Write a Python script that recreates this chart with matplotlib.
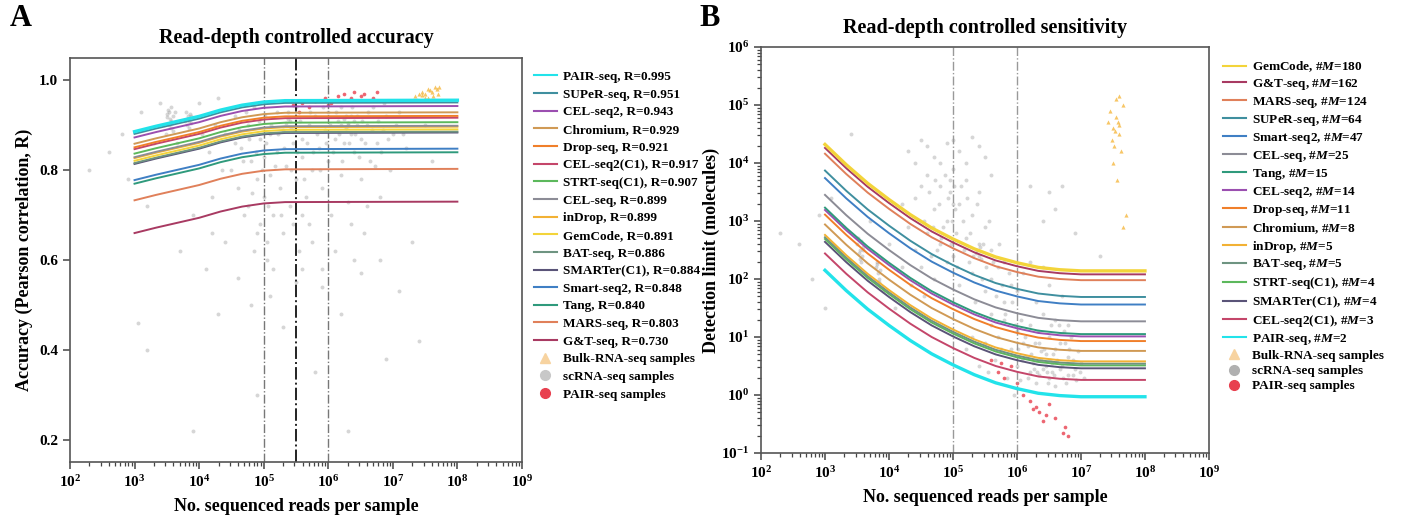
import numpy as np
import matplotlib
matplotlib.use("Agg")
import matplotlib.pyplot as plt
from matplotlib.lines import Line2D
from matplotlib.ticker import LogLocator, FuncFormatter, NullFormatter

plt.rcParams['font.family'] = ['Liberation Serif', 'DejaVu Serif']
plt.rcParams['font.weight'] = 'bold'
plt.rcParams['mathtext.fontset'] = 'custom'
plt.rcParams['mathtext.rm'] = 'Liberation Serif:bold'
plt.rcParams['mathtext.bf'] = 'Liberation Serif:bold'
plt.rcParams['mathtext.it'] = 'Liberation Serif:italic:bold'

# --- datos panel A: precisión controlada por profundidad de lectura ---
acc_methods = ['PAIR-seq', 'SUPeR-seq', 'CEL-seq2', 'Chromium', 'Drop-seq', 'CEL-seq2(C1)',
               'STRT-seq(C1)', 'CEL-seq', 'inDrop', 'GemCode', 'BAT-seq', 'SMARTer(C1)',
               'Smart-seq2', 'Tang', 'MARS-seq', 'G&T-seq']
acc_r = [0.995, 0.951, 0.943, 0.929, 0.921, 0.917, 0.907, 0.899, 0.899, 0.891,
         0.886, 0.884, 0.848, 0.840, 0.803, 0.730]
acc_x = [1e3, 2.15e3, 4.64e3, 1e4, 2.15e4, 4.64e4, 1e5, 2.15e5, 1e8]
acc_curves = [
    [0.886, 0.898, 0.909, 0.920, 0.934, 0.945, 0.952, 0.955, 0.956],
    [0.881, 0.893, 0.904, 0.915, 0.929, 0.940, 0.947, 0.950, 0.951],
    [0.873, 0.885, 0.896, 0.907, 0.921, 0.932, 0.939, 0.942, 0.943],
    [0.859, 0.871, 0.882, 0.893, 0.907, 0.918, 0.925, 0.928, 0.929],
    [0.851, 0.863, 0.874, 0.885, 0.899, 0.910, 0.917, 0.920, 0.921],
    [0.847, 0.859, 0.870, 0.881, 0.895, 0.906, 0.913, 0.916, 0.917],
    [0.837, 0.849, 0.860, 0.871, 0.885, 0.896, 0.903, 0.906, 0.907],
    [0.829, 0.841, 0.852, 0.863, 0.877, 0.888, 0.895, 0.898, 0.899],
    [0.827, 0.839, 0.850, 0.861, 0.875, 0.886, 0.893, 0.896, 0.897],
    [0.821, 0.833, 0.844, 0.855, 0.869, 0.880, 0.887, 0.890, 0.891],
    [0.816, 0.828, 0.839, 0.850, 0.864, 0.875, 0.882, 0.885, 0.886],
    [0.814, 0.826, 0.837, 0.848, 0.862, 0.873, 0.880, 0.883, 0.884],
    [0.778, 0.790, 0.801, 0.812, 0.826, 0.837, 0.844, 0.847, 0.848],
    [0.770, 0.782, 0.793, 0.804, 0.818, 0.829, 0.836, 0.839, 0.840],
    [0.733, 0.745, 0.756, 0.767, 0.781, 0.792, 0.799, 0.802, 0.803],
    [0.660, 0.672, 0.683, 0.694, 0.708, 0.719, 0.726, 0.729, 0.730],
]

# muestras scRNA-seq (log10 lecturas, R)
acc_sc = [
    (3.50, 0.925), (3.55, 0.915), (3.58, 0.905), (3.52, 0.935), (3.56, 0.895), (3.60, 0.92),
    (3.54, 0.93), (3.57, 0.91), (3.53, 0.90), (3.59, 0.888), (3.51, 0.918), (3.56, 0.94),
    (3.80, 0.93), (3.83, 0.92), (3.85, 0.91), (3.82, 0.90), (3.86, 0.925), (3.84, 0.895),
    (3.81, 0.915), (3.87, 0.905),
    (2.3, 0.80), (2.6, 0.84), (2.9, 0.78), (3.1, 0.93), (3.2, 0.72), (3.3, 0.86), (3.4, 0.95),
    (2.8, 0.88), (3.7, 0.62), (3.9, 0.70), (4.0, 0.95), (4.1, 0.58), (4.2, 0.66), (3.2, 0.40),
    (4.3, 0.48), (3.05, 0.46),
    (4.4, 0.88), (4.5, 0.80), (4.55, 0.92), (4.6, 0.76), (4.65, 0.85), (4.7, 0.70), (4.75, 0.90),
    (4.8, 0.82), (4.85, 0.94), (4.9, 0.78), (4.9, 0.66), (4.95, 0.87), (5.0, 0.74), (5.0, 0.83),
    (5.02, 0.92), (5.05, 0.60), (5.1, 0.79), (5.1, 0.88), (5.15, 0.70), (5.2, 0.84), (5.2, 0.93),
    (5.25, 0.76), (5.3, 0.89), (5.3, 0.66), (5.35, 0.81), (5.4, 0.91), (5.4, 0.72), (5.45, 0.86),
    (5.5, 0.78), (5.5, 0.94), (5.55, 0.62), (5.6, 0.87), (5.6, 0.83), (5.65, 0.74), (5.7, 0.90),
    (5.7, 0.68), (5.75, 0.80), (5.8, 0.92), (5.85, 0.85), (5.9, 0.76), (5.95, 0.89), (6.0, 0.82),
    (6.0, 0.93), (6.05, 0.70), (6.1, 0.87), (6.15, 0.91), (6.2, 0.79), (6.2, 0.94), (6.25, 0.86),
    (6.3, 0.90), (6.3, 0.73), (6.35, 0.88), (6.4, 0.84), (6.45, 0.92), (6.5, 0.78), (6.5, 0.87),
    (6.55, 0.66), (6.6, 0.90), (6.65, 0.82), (6.7, 0.94), (6.75, 0.86), (6.8, 0.74), (6.85, 0.89),
    (6.9, 0.92), (6.95, 0.80), (7.0, 0.88), (7.1, 0.93), (7.2, 0.85),
    (5.35, 0.905), (5.42, 0.895), (5.38, 0.915), (6.25, 0.915), (6.3, 0.905), (6.35, 0.92),
    (6.2, 0.90), (6.4, 0.91), (6.28, 0.895), (6.45, 0.90),
    (4.6, 0.56), (4.8, 0.50), (5.1, 0.52), (5.3, 0.45), (5.6, 0.58), (5.9, 0.54), (6.2, 0.48),
    (6.5, 0.57), (6.8, 0.60), (7.1, 0.53), (7.4, 0.42), (6.9, 0.38), (5.8, 0.35), (4.9, 0.30),
    (3.9, 0.22), (6.3, 0.22), (7.3, 0.64), (4.4, 0.64), (4.2, 0.74), (4.3, 0.96), (7.5, 0.90),
    (7.6, 0.82),
    (4.55, 0.86), (4.62, 0.89), (4.68, 0.82), (4.72, 0.93), (4.78, 0.87), (4.82, 0.75),
    (4.88, 0.84), (4.92, 0.91), (4.97, 0.80), (5.03, 0.86), (5.07, 0.72), (5.12, 0.90),
    (5.17, 0.81), (5.22, 0.88), (5.27, 0.70), (5.32, 0.85), (5.37, 0.93), (5.43, 0.80),
    (5.47, 0.89), (5.52, 0.84), (5.57, 0.91), (5.62, 0.78), (5.67, 0.86), (5.72, 0.93),
    (5.77, 0.84), (5.82, 0.88), (5.87, 0.80), (5.92, 0.94), (5.97, 0.86), (6.02, 0.90),
    (6.07, 0.84), (6.12, 0.93), (6.17, 0.88), (6.22, 0.82), (6.27, 0.92), (6.32, 0.86),
    (6.37, 0.94), (6.42, 0.88), (6.47, 0.83), (6.52, 0.91), (6.57, 0.86), (6.62, 0.93),
    (6.67, 0.89), (6.72, 0.81), (6.77, 0.91), (6.82, 0.84), (6.87, 0.95), (6.92, 0.87),
    (7.05, 0.90), (7.15, 0.88),
    (4.85, 0.62), (4.95, 0.68), (5.05, 0.64), (5.15, 0.58), (4.75, 0.72), (5.45, 0.68),
    (5.6, 0.70), (5.75, 0.64), (6.1, 0.62), (6.35, 0.68), (6.6, 0.72), (6.4, 0.60), (5.9, 0.58),
    (5.5, 0.55),
    (3.45, 0.90), (3.62, 0.93), (3.48, 0.88), (3.78, 0.91), (3.88, 0.92), (3.65, 0.86),
    (4.05, 0.88), (4.15, 0.84), (4.25, 0.90), (4.35, 0.80),
]
acc_bulk = [
    (7.35, 0.965), (7.45, 0.975), (7.5, 0.97), (7.55, 0.98), (7.6, 0.975), (7.65, 0.985),
    (7.7, 0.97), (7.55, 0.96), (7.4, 0.97), (7.62, 0.965), (7.58, 0.978), (7.68, 0.98),
    (7.72, 0.985), (7.5, 0.962), (7.45, 0.968),
]
acc_pair = [
    (5.45, 0.945), (5.6, 0.95), (5.7, 0.94), (5.8, 0.955), (5.95, 0.96), (6.05, 0.95),
    (6.15, 0.965), (6.25, 0.97), (6.35, 0.96), (6.4, 0.975), (6.5, 0.965), (6.55, 0.97),
    (6.7, 0.96), (6.75, 0.975), (5.55, 0.93), (6.0, 0.945),
]

# --- datos panel B: sensibilidad (log10 del límite de detección) ---
sens_methods = ['GemCode', 'G&T-seq', 'MARS-seq', 'SUPeR-seq', 'Smart-seq2', 'CEL-seq', 'Tang',
                'CEL-seq2', 'Drop-seq', 'Chromium', 'inDrop', 'BAT-seq', 'STRT-seq(C1)',
                'SMARTer(C1)', 'CEL-seq2(C1)', 'PAIR-seq']
sens_m = [180, 162, 124, 64, 47, 25, 15, 14, 11, 8, 5, 5, 4, 4, 3, 2]
sens_x = [1e3, 2.15e3, 4.64e3, 1e4, 2.15e4, 4.64e4, 1e5, 2.15e5, 4.64e5, 1e6, 2.15e6, 4.64e6,
          1e7, 1e8]
sens_curves_log = [
    [4.32, 3.97, 3.65, 3.37, 3.11, 2.88, 2.69, 2.52, 2.38, 2.28, 2.20, 2.16, 2.14, 2.14],
    [4.26, 3.91, 3.59, 3.31, 3.05, 2.82, 2.63, 2.46, 2.32, 2.22, 2.14, 2.10, 2.08, 2.08],
    [4.16, 3.81, 3.49, 3.21, 2.95, 2.72, 2.53, 2.36, 2.22, 2.12, 2.04, 2.00, 1.98, 1.98],
    [3.87, 3.52, 3.20, 2.92, 2.66, 2.43, 2.24, 2.07, 1.93, 1.83, 1.75, 1.71, 1.69, 1.69],
    [3.74, 3.39, 3.07, 2.79, 2.53, 2.30, 2.11, 1.94, 1.80, 1.70, 1.62, 1.58, 1.56, 1.56],
    [3.45, 3.10, 2.78, 2.50, 2.24, 2.01, 1.82, 1.65, 1.51, 1.41, 1.33, 1.29, 1.27, 1.27],
    [3.23, 2.88, 2.56, 2.28, 2.02, 1.79, 1.60, 1.43, 1.29, 1.19, 1.11, 1.07, 1.05, 1.05],
    [3.19, 2.84, 2.52, 2.24, 1.98, 1.75, 1.56, 1.39, 1.25, 1.15, 1.07, 1.03, 1.01, 1.01],
    [3.11, 2.76, 2.44, 2.16, 1.90, 1.67, 1.48, 1.31, 1.17, 1.07, 0.99, 0.95, 0.93, 0.93],
    [2.94, 2.59, 2.27, 1.99, 1.73, 1.50, 1.31, 1.14, 1.00, 0.90, 0.82, 0.78, 0.76, 0.76],
    [2.76, 2.41, 2.09, 1.81, 1.55, 1.32, 1.13, 0.96, 0.82, 0.72, 0.64, 0.60, 0.58, 0.58],
    [2.72, 2.37, 2.05, 1.77, 1.51, 1.28, 1.09, 0.92, 0.78, 0.68, 0.60, 0.56, 0.54, 0.54],
    [2.69, 2.34, 2.02, 1.74, 1.48, 1.25, 1.06, 0.89, 0.75, 0.65, 0.57, 0.53, 0.51, 0.51],
    [2.64, 2.29, 1.97, 1.69, 1.43, 1.20, 1.01, 0.84, 0.70, 0.60, 0.52, 0.48, 0.46, 0.46],
    [2.44, 2.09, 1.77, 1.49, 1.23, 1.00, 0.81, 0.64, 0.50, 0.40, 0.32, 0.28, 0.26, 0.26],
    [2.15, 1.80, 1.48, 1.20, 0.94, 0.71, 0.52, 0.35, 0.21, 0.11, 0.03, -0.01, -0.03, -0.03],
]

# muestras scRNA-seq (log10 lecturas, log10 límite)
sens_sc = [
    (3.50, 2.6), (3.55, 2.5), (3.58, 2.4), (3.52, 2.7), (3.56, 2.3), (3.60, 2.55), (3.53, 2.45),
    (3.57, 2.65), (3.54, 2.35), (3.59, 2.5),
    (3.80, 2.2), (3.83, 2.1), (3.85, 2.0), (3.82, 2.3), (3.86, 2.15), (3.84, 1.95), (3.81, 2.25),
    (5.38, 2.5), (5.40, 2.4), (5.42, 2.55), (5.36, 2.45), (5.44, 2.35), (5.41, 2.6),
    (2.3, 2.8), (2.6, 2.6), (2.9, 3.1), (3.1, 3.4), (3.3, 2.9), (2.8, 2.0), (3.0, 1.5), (3.7, 3.0),
    (4.0, 2.6), (4.2, 3.3), (3.9, 1.8), (4.1, 1.5), (3.4, 4.5),
    (4.3, 4.2), (4.5, 4.4), (4.7, 4.1), (4.9, 4.35), (5.1, 4.2), (5.3, 4.45), (5.5, 4.1),
    (4.6, 3.8), (4.8, 3.6), (5.0, 3.9), (5.2, 3.7), (5.4, 3.5), (5.6, 3.8), (4.4, 3.4),
    (4.7, 3.2), (4.9, 3.0), (5.1, 3.3), (5.3, 3.1), (5.5, 2.9), (4.6, 2.8), (4.8, 2.6),
    (5.0, 2.4), (5.2, 2.7), (5.6, 2.5), (4.5, 2.2), (4.7, 2.0), (4.9, 2.3), (5.1, 1.9),
    (5.3, 2.1), (5.5, 1.8), (5.7, 2.2), (5.8, 1.6), (4.95, 3.5), (4.85, 2.9), (5.05, 2.8),
    (5.15, 3.0), (4.75, 2.5), (5.25, 2.3), (4.55, 3.0), (5.45, 2.0),
    (4.95, 3.7), (5.0, 3.3), (4.98, 3.0), (5.02, 3.6),
    (5.6, 1.4), (5.7, 1.0), (5.8, 1.3), (5.9, 0.8), (6.0, 1.1), (6.0, 0.5), (6.1, 0.9),
    (6.2, 0.4), (6.2, 1.2), (6.3, 0.6), (6.3, 0.2), (6.35, 0.9), (6.4, 0.45), (6.4, 1.4),
    (6.45, 0.7), (6.5, 0.3), (6.5, 1.0), (6.55, 0.55), (6.6, 0.8), (6.6, 0.15), (6.65, 1.2),
    (6.7, 0.5), (6.75, 0.9), (6.8, 0.35), (6.8, 0.65), (6.85, 1.0), (6.9, 0.45), (6.95, 0.75),
    (7.0, 0.55), (7.05, 0.3), (6.25, 0.55), (6.35, 0.35), (6.45, 0.5), (6.55, 0.4),
    (6.15, 0.65), (6.05, 0.25), (5.95, 0.0), (5.85, 0.3), (5.5, 0.9), (5.4, 0.5), (5.3, 1.0),
    (5.2, 0.8),
    (5.6, 2.0), (5.8, 2.3), (6.0, 1.8), (6.1, 2.1), (6.3, 1.6), (6.5, 1.9), (6.6, 1.3),
    (6.7, 1.7), (6.2, 2.3), (6.8, 1.2), (6.4, 2.2), (5.9, 1.9),
    (6.5, 3.5), (6.6, 3.2), (6.7, 3.6), (6.4, 3.0), (6.9, 2.8), (7.3, 2.4), (6.2, 3.6),
    (4.62, 3.5), (4.68, 2.9), (4.72, 3.7), (4.78, 3.3), (4.82, 2.7), (4.88, 3.8), (4.92, 3.4),
    (4.97, 2.6), (5.03, 3.2), (5.07, 2.2), (5.12, 3.6), (5.17, 2.5), (5.22, 3.4), (5.27, 2.8),
    (5.32, 2.4), (5.37, 3.3), (5.47, 2.6), (5.52, 2.2), (5.57, 3.0), (5.62, 2.3), (5.67, 1.7),
    (5.72, 2.6), (5.77, 1.9), (5.82, 1.4), (5.87, 2.1), (5.92, 1.6), (5.97, 1.2),
    (6.02, 0.8), (6.08, 0.6), (6.12, 1.0), (6.18, 0.3), (6.22, 0.7), (6.28, 0.9), (6.32, 0.4),
    (6.38, 0.6), (6.42, 0.8), (6.48, 0.2), (6.52, 0.6), (6.58, 0.35), (6.62, 0.6), (6.68, 0.9),
    (6.72, 0.3), (6.78, 0.55), (6.82, 0.8), (6.88, 0.6), (6.92, 0.25), (6.98, 0.4),
    (6.27, 0.45), (6.37, 0.75), (6.47, 0.4), (6.57, 0.7), (6.67, 0.45), (6.77, 0.2),
    (6.87, 0.35), (6.17, 0.85), (6.07, 1.3), (6.33, 1.1), (6.53, 1.2), (6.73, 1.1),
    (4.4, 4.0), (4.6, 4.3), (4.8, 4.0), (5.0, 4.4), (5.2, 4.0), (5.4, 4.3), (4.5, 3.6),
    (4.3, 2.9), (4.4, 2.5), (4.2, 2.2), (4.35, 1.9), (4.55, 1.7), (4.65, 2.4), (5.35, 1.6),
    (5.6, 1.2), (5.75, 0.8), (5.55, 0.4), (5.65, 0.6),
]
sens_bulk = [
    (7.45, 4.9), (7.5, 4.6), (7.55, 4.8), (7.6, 4.5), (7.52, 4.3), (7.58, 4.7), (7.65, 5.0),
    (7.48, 4.4), (7.55, 5.1), (7.62, 4.2), (7.5, 4.0), (7.57, 3.7), (7.6, 4.65), (7.53, 4.55),
    (7.7, 3.1), (7.65, 2.9), (7.42, 4.7), (7.6, 5.15),
]
sens_pair = [
    (5.6, 0.6), (5.7, 0.4), (5.8, 0.3), (5.9, 0.5), (6.0, 0.2), (6.1, 0.0), (6.2, -0.1),
    (6.3, -0.2), (6.35, -0.3), (6.4, -0.45), (6.45, -0.35), (6.5, -0.15), (6.6, -0.4),
    (6.75, -0.55), (6.8, -0.7), (6.72, -0.65), (6.25, -0.25), (5.75, 0.55),
]

colors = {
    'PAIR-seq': '#22e3ea', 'SUPeR-seq': '#3f8f9f', 'CEL-seq2': '#9b4fb0', 'Chromium': '#d09a55',
    'Drop-seq': '#f07f2a', 'CEL-seq2(C1)': '#c4466a', 'STRT-seq(C1)': '#5cb85c',
    'CEL-seq': '#8c8c96', 'inDrop': '#f2b134', 'GemCode': '#f3d43a', 'BAT-seq': '#6e9481',
    'SMARTer(C1)': '#5a5478', 'Smart-seq2': '#3f7fc4', 'Tang': '#2f9a7c',
    'MARS-seq': '#e0805a', 'G&T-seq': '#a83a62',
}
GRAY = '#9a9a9a'
BULK = '#f5b840'
PAIRC = '#e8404f'

fig = plt.figure(figsize=(14.02, 5.17), dpi=100)
axA = fig.add_axes([0.0499, 0.1064, 0.3224, 0.7814])
axB = fig.add_axes([0.5428, 0.1238, 0.3195, 0.7853])


def decade_fmt(v, pos):
    return r'$\mathbf{10^{%d}}$' % int(round(np.log10(v)))


def style_axes(ax):
    ax.set_xscale('log')
    ax.set_xlim(1e2, 1e9)
    ax.xaxis.set_major_locator(LogLocator(base=10, numticks=12))
    ax.xaxis.set_minor_locator(LogLocator(base=10, subs=np.arange(2, 10), numticks=12))
    ax.xaxis.set_major_formatter(FuncFormatter(decade_fmt))
    ax.xaxis.set_minor_formatter(NullFormatter())
    ax.tick_params(which='major', direction='out', length=5, width=1.1, labelsize=11, color='#444')
    ax.tick_params(which='minor', direction='out', length=3, width=0.9, color='#444')
    for s in ax.spines.values():
        s.set_color('#555555')
        s.set_linewidth(1.2)
    ax.set_xlabel('No. sequenced reads per sample', fontsize=13, fontweight='bold', labelpad=6)


def scatter_samples(ax, pts, logy, **kw):
    xs = [10 ** p[0] for p in pts]
    ys = [10 ** p[1] if logy else p[1] for p in pts]
    ax.scatter(xs, ys, linewidths=0, **kw)


# ---------- Panel A ----------
style_axes(axA)
axA.set_ylim(0.15, 1.05)
axA.set_yticks([0.2, 0.4, 0.6, 0.8, 1.0])
axA.set_yticklabels(['0.2', '0.4', '0.6', '0.8', '1.0'])
axA.tick_params(axis='y', which='minor', left=False)

scatter_samples(axA, acc_sc, False, s=8, c=GRAY, alpha=0.4, zorder=1)
scatter_samples(axA, acc_bulk, False, s=9, c=BULK, marker='^', alpha=0.8, zorder=2)
scatter_samples(axA, acc_pair, False, s=7, c=PAIRC, alpha=0.8, zorder=2)
axA.axvline(1e5, color='#777777', lw=1, ls='-.', zorder=2)
axA.axvline(10 ** 5.5, color='#222222', lw=1.4, ls='-.', zorder=2)
axA.axvline(1e6, color='#777777', lw=1, ls='-.', zorder=2)

for name, vals in reversed(list(zip(acc_methods, acc_curves))):
    axA.plot(acc_x, vals, color=colors[name], lw=2.4 if name == 'PAIR-seq' else 1.4, zorder=3)

axA.set_ylabel('Accuracy (Pearson correlation, R)', fontsize=13, fontweight='bold', labelpad=4)
axA.set_title('Read-depth controlled accuracy', fontsize=14.5, fontweight='bold', pad=11)

handlesA = [Line2D([], [], color=colors[n], lw=1.5) for n in acc_methods]
labelsA = ['%s, R=%.3f' % (n, r) for n, r in zip(acc_methods, acc_r)]
handlesA += [Line2D([], [], ls='', marker='^', color='#f7d3a0', markersize=7),
             Line2D([], [], ls='', marker='o', color='#c8c8c8', markersize=7),
             Line2D([], [], ls='', marker='o', color=PAIRC, markersize=7)]
labelsA += ['Bulk-RNA-seq samples', 'scRNA-seq samples', 'PAIR-seq samples']
fig.legend(handlesA, labelsA, loc='upper left', bbox_to_anchor=(0.381, 0.863), frameon=False,
           fontsize=9.5, handlelength=1.7, handletextpad=0.45, labelspacing=0.41,
           borderaxespad=0, borderpad=0)

# ---------- Panel B ----------
style_axes(axB)
axB.set_yscale('log')
axB.set_ylim(1e-1, 1e6)
axB.yaxis.set_major_locator(LogLocator(base=10, numticks=12))
axB.yaxis.set_minor_locator(LogLocator(base=10, subs=np.arange(2, 10), numticks=12))
axB.yaxis.set_major_formatter(FuncFormatter(decade_fmt))
axB.yaxis.set_minor_formatter(NullFormatter())

scatter_samples(axB, sens_sc, True, s=8, c=GRAY, alpha=0.4, zorder=1)
scatter_samples(axB, sens_bulk, True, s=9, c=BULK, marker='^', alpha=0.8, zorder=2)
scatter_samples(axB, sens_pair, True, s=7, c=PAIRC, alpha=0.8, zorder=2)
axB.axvline(1e5, color='#999999', lw=1, ls='-.', zorder=2)
axB.axvline(1e6, color='#999999', lw=1, ls='-.', zorder=2)

for name, vals in reversed(list(zip(sens_methods, sens_curves_log))):
    lw = 2.4 if name in ('PAIR-seq', 'GemCode') else 1.4
    axB.plot(sens_x, 10 ** np.array(vals), color=colors[name], lw=lw, zorder=3)

axB.set_ylabel('Detection limit (molecules)', fontsize=13, fontweight='bold', labelpad=1)
axB.set_title('Read-depth controlled sensitivity', fontsize=14.5, fontweight='bold', pad=10)

handlesB = [Line2D([], [], color=colors[n], lw=1.5) for n in sens_methods]
labelsB = [r'%s, #$M$=%d' % (n, m) for n, m in zip(sens_methods, sens_m)]
handlesB += [Line2D([], [], ls='', marker='^', color='#f7d3a0', markersize=7),
             Line2D([], [], ls='', marker='o', color='#b0b0b0', markersize=7),
             Line2D([], [], ls='', marker='o', color=PAIRC, markersize=7)]
labelsB += ['Bulk-RNA-seq samples', 'scRNA-seq samples', 'PAIR-seq samples']
fig.legend(handlesB, labelsB, loc='upper left', bbox_to_anchor=(0.8725, 0.885), frameon=False,
           fontsize=9.5, handlelength=1.7, handletextpad=0.45, labelspacing=0.225,
           borderaxespad=0, borderpad=0)

fig.text(0.007, 0.965, 'A', fontsize=22, fontweight='bold', va='center')
fig.text(0.499, 0.965, 'B', fontsize=22, fontweight='bold', va='center')

fig.savefig('out.png', dpi=100)
